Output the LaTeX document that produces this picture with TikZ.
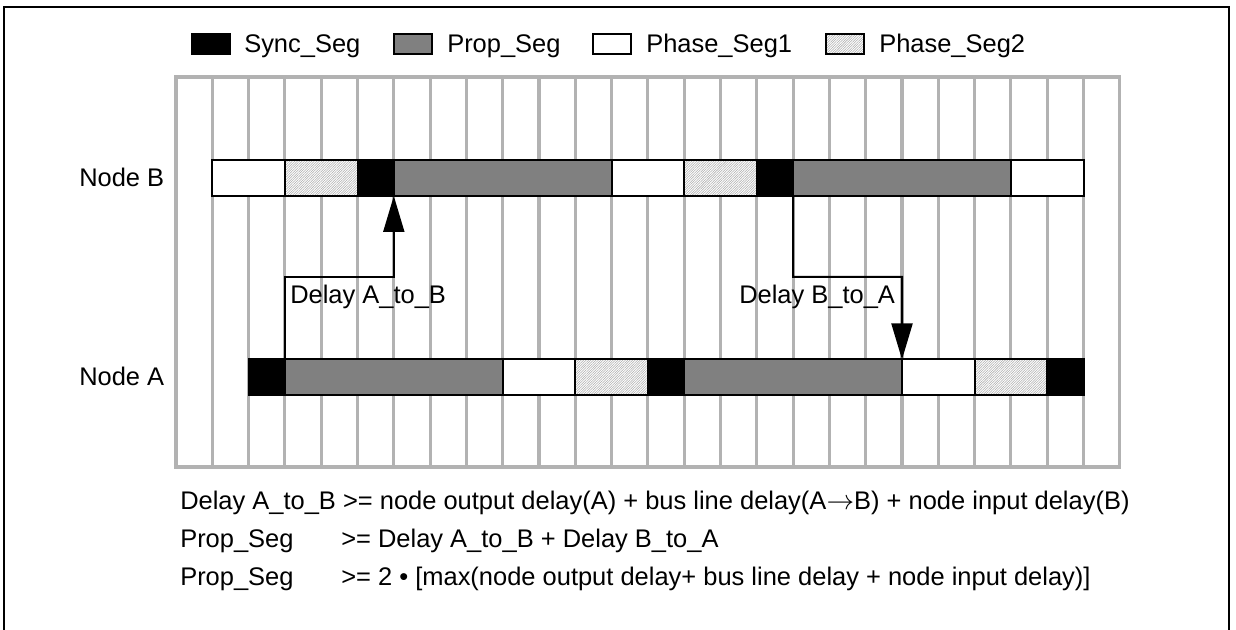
\documentclass[tikz,border=0pt]{standalone}
\usepackage{fontspec}
\setmainfont{Liberation Sans}
\usetikzlibrary{arrows.meta,patterns.meta}
\begin{document}
\begin{tikzpicture}[x=0.75pt,y=-0.75pt,
  every node/.style={font=\fontsize{19.1}{23}\selectfont},
  gridline/.style={draw=black!30, line width=2.3pt},
  frameline/.style={draw=black, line width=1.5pt},
  hatch/.style={preaction={fill=white}, pattern={Lines[angle=45,distance=1.3pt,line width=0.4pt]}, pattern color=black!32},
  seg/.style={draw=black, line width=1.5pt, minimum height=27pt, inner sep=0pt, outer sep=0pt, anchor=west},
  syncseg/.style={seg, fill=black},
  propseg/.style={seg, fill=black!50},
  psonesseg/.style={seg, fill=white},
  pstwoseg/.style={seg, hatch},
  swatch/.style={draw=black, line width=1.5pt, minimum width=28.5pt, minimum height=15pt, inner sep=0pt, outer sep=0pt},
  legtext/.style={anchor=base west, inner sep=0pt},
  txt/.style={anchor=base west, inner sep=0pt},
  conn/.style={draw=black, line width=1.5pt},
  tip/.style={-{Triangle[width=15.75pt,length=27pt]}}
]
\useasboundingbox (0,0) rectangle (1236,630);
% outer frame (open at the bottom)
\draw[frameline] (4,630) -- (4,7) -- (1229,7) -- (1229,630);
% time grid
\draw[gridline] (176,77) rectangle ({176+26*36.3},467);
\foreach \k in {1,...,25} \draw[gridline] ({176+\k*36.3},77) -- ({176+\k*36.3},467);
% legend
\node[swatch, fill=black] (lsync) at (211,44) {};
\node[legtext] (tsync) at (244,53) {Sync\_Seg};
\node[swatch, fill=black!50] (lprop) at (412.5,44) {};
\node[legtext] (tprop) at (447,53) {Prop\_Seg};
\node[swatch, fill=white] (lps1) at (612,44) {};
\node[legtext] (tps1) at (646,53) {Phase\_Seg1};
\node[swatch, hatch] (lps2) at (844.5,44) {};
\node[legtext] (tps2) at (879,53) {Phase\_Seg2};
% Node B bit
\foreach \s/\e/\st/\n in {1/3/psonesseg/b1, 3/5/pstwoseg/b2, 5/6/syncseg/b3, 6/12/propseg/b4, 12/14/psonesseg/b5, 14/16/pstwoseg/b6, 16/17/syncseg/b7, 17/23/propseg/b8, 23/25/psonesseg/b9}
  \node[\st, minimum width={(\e-\s)*27.225pt}] (\n) at ({176+\s*36.3},178) {};
% Node A bit
\foreach \s/\e/\st/\n in {2/3/syncseg/a1, 3/9/propseg/a2, 9/11/psonesseg/a3, 11/13/pstwoseg/a4, 13/14/syncseg/a5, 14/20/propseg/a6, 20/22/psonesseg/a7, 22/24/pstwoseg/a8, 24/25/syncseg/a9}
  \node[\st, minimum width={(\e-\s)*27.225pt}] (\n) at ({176+\s*36.3},377.5) {};
% labels
\node[txt] (nodeB) at (79,187) {Node B};
\node[txt] (nodeA) at (79,386) {Node A};
% delay connectors
\coordinate (ab) at ({176+3*36.3},277);
\coordinate (ba) at ({176+17*36.3},277);
\draw[conn, tip] (a1.north east) -- (ab) -| (b3.south east);
\draw[conn, tip] (b7.south east) -- (ba) -| (a6.north east);
\node[txt] (dab) at (290,304) {Delay A\_to\_B};
\node[txt] (dba) at (739,304) {Delay B\_to\_A};
% equations
\node[txt] (eqone) at (180,510) {Delay A\_to\_B >= node output delay(A) + bus line delay(A$\rightarrow$B) + node input delay(B)};
\node[txt] (eqtwol) at (180,548) {Prop\_Seg};
\node[txt] (eqtwor) at (341,548) {>= Delay A\_to\_B + Delay B\_to\_A};
\node[txt] (eqthreel) at (180,586) {Prop\_Seg};
\node[txt] (eqthreer) at (341,586) {>= 2 • [max(node output delay+ bus line delay + node input delay)]};
\end{tikzpicture}
\end{document}
